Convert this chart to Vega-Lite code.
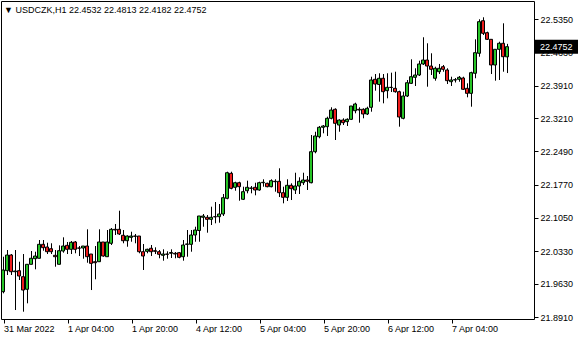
{
  "$schema": "https://vega.github.io/schema/vega-lite/v6.json",
  "width": 533,
  "height": 318,
  "padding": {"left": 1, "top": 1, "right": 0, "bottom": 0},
  "background": "white",
  "config": {
    "view": {"stroke": "black", "strokeWidth": 1},
    "font": "Liberation Sans",
    "axis": {"labelOverlap": false}
  },
  "title": {
    "text": "▼  USDCZK,H1  22.4532 22.4813 22.4182 22.4752",
    "anchor": "start",
    "frame": "group",
    "orient": "top",
    "offset": -14,
    "dx": 3,
    "fontSize": 9,
    "fontWeight": "normal",
    "color": "black",
    "baseline": "top"
  },
  "data": {
    "values": [
      {"t": "2022-03-31T12:00", "o": 21.9457, "h": 22.0213, "l": 21.9422, "c": 21.9926},
      {"t": "2022-03-31T13:00", "o": 21.9911, "h": 22.0358, "l": 21.9818, "c": 22.0250},
      {"t": "2022-03-31T14:00", "o": 22.0250, "h": 22.0271, "l": 21.9818, "c": 21.9889},
      {"t": "2022-03-31T15:00", "o": 21.9889, "h": 22.0358, "l": 21.9061, "c": 21.9904},
      {"t": "2022-03-31T16:00", "o": 21.9911, "h": 22.0105, "l": 21.9710, "c": 21.9796},
      {"t": "2022-03-31T17:00", "o": 21.9781, "h": 22.0271, "l": 21.9025, "c": 21.9493},
      {"t": "2022-03-31T18:00", "o": 21.9509, "h": 22.0055, "l": 21.9206, "c": 22.0049},
      {"t": "2022-03-31T19:00", "o": 22.0049, "h": 22.0336, "l": 22.0049, "c": 22.0179},
      {"t": "2022-03-31T20:00", "o": 22.0170, "h": 22.0321, "l": 21.9941, "c": 22.0228},
      {"t": "2022-03-31T21:00", "o": 22.0179, "h": 22.0574, "l": 22.0179, "c": 22.0481},
      {"t": "2022-03-31T22:00", "o": 22.0481, "h": 22.0574, "l": 22.0343, "c": 22.0408},
      {"t": "2022-03-31T23:00", "o": 22.0423, "h": 22.0516, "l": 22.0271, "c": 22.0321},
      {"t": "2022-04-01T00:00", "o": 22.0386, "h": 22.0503, "l": 22.0271, "c": 22.0321},
      {"t": "2022-04-01T01:00", "o": 22.0243, "h": 22.0358, "l": 21.9997, "c": 22.0213},
      {"t": "2022-04-01T02:00", "o": 22.0049, "h": 22.0459, "l": 22.0049, "c": 22.0343},
      {"t": "2022-04-01T03:00", "o": 22.0336, "h": 22.0632, "l": 22.0300, "c": 22.0444},
      {"t": "2022-04-01T04:00", "o": 22.0459, "h": 22.0531, "l": 22.0271, "c": 22.0373},
      {"t": "2022-04-01T05:00", "o": 22.0373, "h": 22.0552, "l": 22.0271, "c": 22.0524},
      {"t": "2022-04-01T06:00", "o": 22.0531, "h": 22.0552, "l": 22.0287, "c": 22.0373},
      {"t": "2022-04-01T07:00", "o": 22.0401, "h": 22.0444, "l": 22.0228, "c": 22.0398},
      {"t": "2022-04-01T08:00", "o": 22.0401, "h": 22.0444, "l": 22.0170, "c": 22.0444},
      {"t": "2022-04-01T09:00", "o": 22.0444, "h": 22.0805, "l": 22.0083, "c": 22.0213},
      {"t": "2022-04-01T10:00", "o": 22.0271, "h": 22.0271, "l": 21.9493, "c": 22.0070},
      {"t": "2022-04-01T11:00", "o": 22.0105, "h": 22.0444, "l": 21.9725, "c": 22.0083},
      {"t": "2022-04-01T12:00", "o": 22.0105, "h": 22.0805, "l": 22.0105, "c": 22.0531},
      {"t": "2022-04-01T13:00", "o": 22.0531, "h": 22.0531, "l": 22.0213, "c": 22.0228},
      {"t": "2022-04-01T14:00", "o": 22.0213, "h": 22.0790, "l": 22.0213, "c": 22.0531},
      {"t": "2022-04-01T15:00", "o": 22.0503, "h": 22.0833, "l": 22.0466, "c": 22.0805},
      {"t": "2022-04-01T16:00", "o": 22.0805, "h": 22.0920, "l": 22.0682, "c": 22.0790},
      {"t": "2022-04-01T17:00", "o": 22.0805, "h": 22.1207, "l": 22.0682, "c": 22.0704},
      {"t": "2022-04-01T18:00", "o": 22.0676, "h": 22.0790, "l": 22.0503, "c": 22.0559},
      {"t": "2022-04-01T19:00", "o": 22.0559, "h": 22.0676, "l": 22.0429, "c": 22.0660},
      {"t": "2022-04-01T20:00", "o": 22.0632, "h": 22.0753, "l": 22.0537, "c": 22.0660},
      {"t": "2022-04-01T21:00", "o": 22.0660, "h": 22.0704, "l": 22.0503, "c": 22.0654},
      {"t": "2022-04-01T22:00", "o": 22.0660, "h": 22.0660, "l": 22.0287, "c": 22.0321},
      {"t": "2022-04-01T23:00", "o": 22.0321, "h": 22.0488, "l": 21.9926, "c": 22.0228},
      {"t": "2022-04-04T00:00", "o": 22.0330, "h": 22.0386, "l": 22.0287, "c": 22.0373},
      {"t": "2022-04-04T01:00", "o": 22.0395, "h": 22.0466, "l": 22.0228, "c": 22.0321},
      {"t": "2022-04-04T02:00", "o": 22.0343, "h": 22.0416, "l": 22.0271, "c": 22.0330},
      {"t": "2022-04-04T03:00", "o": 22.0321, "h": 22.0358, "l": 22.0179, "c": 22.0265},
      {"t": "2022-04-04T04:00", "o": 22.0243, "h": 22.0373, "l": 22.0127, "c": 22.0271},
      {"t": "2022-04-04T05:00", "o": 22.0271, "h": 22.0330, "l": 22.0170, "c": 22.0265},
      {"t": "2022-04-04T06:00", "o": 22.0287, "h": 22.0373, "l": 22.0185, "c": 22.0304},
      {"t": "2022-04-04T07:00", "o": 22.0287, "h": 22.0315, "l": 22.0179, "c": 22.0271},
      {"t": "2022-04-04T08:00", "o": 22.0300, "h": 22.0315, "l": 22.0179, "c": 22.0200},
      {"t": "2022-04-04T09:00", "o": 22.0213, "h": 22.0574, "l": 22.0127, "c": 22.0466},
      {"t": "2022-04-04T10:00", "o": 22.0481, "h": 22.0790, "l": 22.0213, "c": 22.0488},
      {"t": "2022-04-04T11:00", "o": 22.0481, "h": 22.0790, "l": 22.0321, "c": 22.0682},
      {"t": "2022-04-04T12:00", "o": 22.0682, "h": 22.0861, "l": 22.0537, "c": 22.0790},
      {"t": "2022-04-04T13:00", "o": 22.0779, "h": 22.1093, "l": 22.0537, "c": 22.1093},
      {"t": "2022-04-04T14:00", "o": 22.1065, "h": 22.1136, "l": 22.0861, "c": 22.1093},
      {"t": "2022-04-04T15:00", "o": 22.1065, "h": 22.1114, "l": 22.0732, "c": 22.1021},
      {"t": "2022-04-04T16:00", "o": 22.1021, "h": 22.1294, "l": 22.0898, "c": 22.1065},
      {"t": "2022-04-04T17:00", "o": 22.1078, "h": 22.1395, "l": 22.0935, "c": 22.1075},
      {"t": "2022-04-04T18:00", "o": 22.1078, "h": 22.1352, "l": 22.0948, "c": 22.1136},
      {"t": "2022-04-04T19:00", "o": 22.1136, "h": 22.1568, "l": 22.1093, "c": 22.1488},
      {"t": "2022-04-04T20:00", "o": 22.1475, "h": 22.2050, "l": 22.1454, "c": 22.2028},
      {"t": "2022-04-04T21:00", "o": 22.2015, "h": 22.2050, "l": 22.1670, "c": 22.1691},
      {"t": "2022-04-04T22:00", "o": 22.1713, "h": 22.1834, "l": 22.1639, "c": 22.1812},
      {"t": "2022-04-04T23:00", "o": 22.1812, "h": 22.1834, "l": 22.1423, "c": 22.1726},
      {"t": "2022-04-05T00:00", "o": 22.1454, "h": 22.1726, "l": 22.1438, "c": 22.1618},
      {"t": "2022-04-05T01:00", "o": 22.1639, "h": 22.1856, "l": 22.1583, "c": 22.1713},
      {"t": "2022-04-05T02:00", "o": 22.1691, "h": 22.1741, "l": 22.1583, "c": 22.1698},
      {"t": "2022-04-05T03:00", "o": 22.1713, "h": 22.1812, "l": 22.1540, "c": 22.1655},
      {"t": "2022-04-05T04:00", "o": 22.1655, "h": 22.1834, "l": 22.1639, "c": 22.1812},
      {"t": "2022-04-05T05:00", "o": 22.1812, "h": 22.1886, "l": 22.1726, "c": 22.1821},
      {"t": "2022-04-05T06:00", "o": 22.1799, "h": 22.1812, "l": 22.1713, "c": 22.1726},
      {"t": "2022-04-05T07:00", "o": 22.1726, "h": 22.1886, "l": 22.1713, "c": 22.1856},
      {"t": "2022-04-05T08:00", "o": 22.1834, "h": 22.1886, "l": 22.1618, "c": 22.1843},
      {"t": "2022-04-05T09:00", "o": 22.1843, "h": 22.2124, "l": 22.1503, "c": 22.1596},
      {"t": "2022-04-05T10:00", "o": 22.1596, "h": 22.1726, "l": 22.1367, "c": 22.1497},
      {"t": "2022-04-05T11:00", "o": 22.1497, "h": 22.1886, "l": 22.1417, "c": 22.1756},
      {"t": "2022-04-05T12:00", "o": 22.1756, "h": 22.1799, "l": 22.1438, "c": 22.1683},
      {"t": "2022-04-05T13:00", "o": 22.1655, "h": 22.2028, "l": 22.1568, "c": 22.1741},
      {"t": "2022-04-05T14:00", "o": 22.1741, "h": 22.1929, "l": 22.1568, "c": 22.1843},
      {"t": "2022-04-05T15:00", "o": 22.1812, "h": 22.2028, "l": 22.1763, "c": 22.1871},
      {"t": "2022-04-05T16:00", "o": 22.1871, "h": 22.1957, "l": 22.1655, "c": 22.1843},
      {"t": "2022-04-05T17:00", "o": 22.1812, "h": 22.2843, "l": 22.1799, "c": 22.2482},
      {"t": "2022-04-05T18:00", "o": 22.2482, "h": 22.2914, "l": 22.2448, "c": 22.2822},
      {"t": "2022-04-05T19:00", "o": 22.2806, "h": 22.3038, "l": 22.2772, "c": 22.3010},
      {"t": "2022-04-05T20:00", "o": 22.3010, "h": 22.3059, "l": 22.2880, "c": 22.3038},
      {"t": "2022-04-05T21:00", "o": 22.3023, "h": 22.3239, "l": 22.2822, "c": 22.3204},
      {"t": "2022-04-05T22:00", "o": 22.3204, "h": 22.3442, "l": 22.3182, "c": 22.3383},
      {"t": "2022-04-05T23:00", "o": 22.3399, "h": 22.3420, "l": 22.2735, "c": 22.3096},
      {"t": "2022-04-06T00:00", "o": 22.3059, "h": 22.3182, "l": 22.2914, "c": 22.3167},
      {"t": "2022-04-06T01:00", "o": 22.3167, "h": 22.3204, "l": 22.3059, "c": 22.3109},
      {"t": "2022-04-06T02:00", "o": 22.3131, "h": 22.3204, "l": 22.3038, "c": 22.3182},
      {"t": "2022-04-06T03:00", "o": 22.3182, "h": 22.3470, "l": 22.3167, "c": 22.3470},
      {"t": "2022-04-06T04:00", "o": 22.3368, "h": 22.3541, "l": 22.3312, "c": 22.3513},
      {"t": "2022-04-06T05:00", "o": 22.3399, "h": 22.3442, "l": 22.3109, "c": 22.3383},
      {"t": "2022-04-06T06:00", "o": 22.3399, "h": 22.3420, "l": 22.3204, "c": 22.3297},
      {"t": "2022-04-06T07:00", "o": 22.3297, "h": 22.3455, "l": 22.3275, "c": 22.3420},
      {"t": "2022-04-06T08:00", "o": 22.3442, "h": 22.4103, "l": 22.3347, "c": 22.4032},
      {"t": "2022-04-06T09:00", "o": 22.4047, "h": 22.4161, "l": 22.3801, "c": 22.3945},
      {"t": "2022-04-06T10:00", "o": 22.3935, "h": 22.4177, "l": 22.3563, "c": 22.4069},
      {"t": "2022-04-06T11:00", "o": 22.4069, "h": 22.4161, "l": 22.3528, "c": 22.3779},
      {"t": "2022-04-06T12:00", "o": 22.3801, "h": 22.4177, "l": 22.3636, "c": 22.3874},
      {"t": "2022-04-06T13:00", "o": 22.3874, "h": 22.4190, "l": 22.3772, "c": 22.3870},
      {"t": "2022-04-06T14:00", "o": 22.3852, "h": 22.4211, "l": 22.3757, "c": 22.3779},
      {"t": "2022-04-06T15:00", "o": 22.3779, "h": 22.3801, "l": 22.3023, "c": 22.3232},
      {"t": "2022-04-06T16:00", "o": 22.3204, "h": 22.3779, "l": 22.3182, "c": 22.3686},
      {"t": "2022-04-06T17:00", "o": 22.3686, "h": 22.4032, "l": 22.3664, "c": 22.3973},
      {"t": "2022-04-06T18:00", "o": 22.3960, "h": 22.4479, "l": 22.3945, "c": 22.4103},
      {"t": "2022-04-06T19:00", "o": 22.4090, "h": 22.4285, "l": 22.3902, "c": 22.4140},
      {"t": "2022-04-06T20:00", "o": 22.4140, "h": 22.4449, "l": 22.4118, "c": 22.4378},
      {"t": "2022-04-06T21:00", "o": 22.4378, "h": 22.4955, "l": 22.4356, "c": 22.4464},
      {"t": "2022-04-06T22:00", "o": 22.4464, "h": 22.4825, "l": 22.3887, "c": 22.4334},
      {"t": "2022-04-06T23:00", "o": 22.4334, "h": 22.4609, "l": 22.4140, "c": 22.4263},
      {"t": "2022-04-07T00:00", "o": 22.4069, "h": 22.4319, "l": 22.4017, "c": 22.4285},
      {"t": "2022-04-07T01:00", "o": 22.4211, "h": 22.4378, "l": 22.4161, "c": 22.4285},
      {"t": "2022-04-07T02:00", "o": 22.4319, "h": 22.4356, "l": 22.4211, "c": 22.4263},
      {"t": "2022-04-07T03:00", "o": 22.4248, "h": 22.4285, "l": 22.3945, "c": 22.4017},
      {"t": "2022-04-07T04:00", "o": 22.3995, "h": 22.4103, "l": 22.3902, "c": 22.4032},
      {"t": "2022-04-07T05:00", "o": 22.4032, "h": 22.4075, "l": 22.3978, "c": 22.4038},
      {"t": "2022-04-07T06:00", "o": 22.4047, "h": 22.4118, "l": 22.3995, "c": 22.4090},
      {"t": "2022-04-07T07:00", "o": 22.4075, "h": 22.4103, "l": 22.3816, "c": 22.3831},
      {"t": "2022-04-07T08:00", "o": 22.3852, "h": 22.3960, "l": 22.3658, "c": 22.3744},
      {"t": "2022-04-07T09:00", "o": 22.3744, "h": 22.4211, "l": 22.3455, "c": 22.4190},
      {"t": "2022-04-07T10:00", "o": 22.4177, "h": 22.4911, "l": 22.4069, "c": 22.4622},
      {"t": "2022-04-07T11:00", "o": 22.4609, "h": 22.5344, "l": 22.4535, "c": 22.5292},
      {"t": "2022-04-07T12:00", "o": 22.5313, "h": 22.5387, "l": 22.5004, "c": 22.5041},
      {"t": "2022-04-07T13:00", "o": 22.5054, "h": 22.5076, "l": 22.4896, "c": 22.4911},
      {"t": "2022-04-07T14:00", "o": 22.4911, "h": 22.4911, "l": 22.4161, "c": 22.4356},
      {"t": "2022-04-07T15:00", "o": 22.4356, "h": 22.4695, "l": 22.4017, "c": 22.4695},
      {"t": "2022-04-07T16:00", "o": 22.4695, "h": 22.4859, "l": 22.4032, "c": 22.4825},
      {"t": "2022-04-07T17:00", "o": 22.4825, "h": 22.5257, "l": 22.4211, "c": 22.4535},
      {"t": "2022-04-07T18:00", "o": 22.4532, "h": 22.4813, "l": 22.4182, "c": 22.4752}
    ]
  },
  "layer": [
    {
      "mark": {"type": "rule", "color": "black", "strokeWidth": 1, "xOffset": 0.5},
      "encoding": {
        "x": {
          "field": "t",
          "type": "ordinal",
          "sort": null,
          "scale": {"paddingInner": 0, "paddingOuter": 0, "range": [0, 508]},
          "axis": {
            "orient": "bottom",
            "values": ["2022-03-31T12:00", "2022-04-01T04:00", "2022-04-01T20:00", "2022-04-04T12:00", "2022-04-05T04:00", "2022-04-05T20:00", "2022-04-06T12:00", "2022-04-07T04:00"],
            "labelExpr": "datum.value == '2022-03-31T12:00' ? '31 Mar 2022' : timeFormat(toDate(datum.value), '%-d %b %H:%M')",
            "labelAlign": "left",
            "labelBaseline": "top",
            "labelPadding": 1,
            "labelAngle": 0,
            "labelFontSize": 9,
            "labelColor": "black",
            "labelOverlap": false,
            "labelBound": false,
            "tickSize": 4,
            "tickColor": "black",
            "tickOffset": 0.5,
            "domain": false,
            "grid": false,
            "title": null
          }
        },
        "y": {
          "field": "l",
          "type": "quantitative",
          "scale": {"domain": [21.8867, 22.5739], "zero": false, "nice": false},
          "axis": {
            "orient": "right",
            "values": [22.535, 22.463, 22.391, 22.321, 22.249, 22.177, 22.105, 22.033, 21.963, 21.891],
            "format": ".4f",
            "tickSize": 4,
            "tickColor": "black",
            "labelPadding": 2,
            "labelFontSize": 9,
            "labelColor": "black",
            "labelBaseline": "middle",
            "labelOverlap": false,
            "labelBound": false,
            "labelFlush": false,
            "domain": false,
            "grid": false,
            "title": null
          }
        },
        "y2": {"field": "h"}
      }
    },
    {
      "mark": {"type": "bar", "width": 3, "stroke": "black", "strokeWidth": 1},
      "encoding": {
        "x": {"field": "t", "type": "ordinal", "sort": null},
        "y": {
          "field": "o",
          "type": "quantitative",
          "axis": {
            "orient": "right",
            "values": [22.535, 22.463, 22.391, 22.321, 22.249, 22.177, 22.105, 22.033, 21.963, 21.891],
            "format": ".4f",
            "tickSize": 4,
            "tickColor": "black",
            "labelPadding": 2,
            "labelFontSize": 9,
            "labelColor": "black",
            "labelBaseline": "middle",
            "labelOverlap": false,
            "labelBound": false,
            "labelFlush": false,
            "domain": false,
            "grid": false,
            "title": null
          }
        },
        "y2": {"field": "c"},
        "fill": {"condition": {"test": "datum.c >= datum.o", "value": "#27c427"}, "value": "#ee1c1c"}
      }
    },
    {
      "data": {"values": [{"p": 22.4752, "label": "22.4752"}]},
      "mark": {"type": "rect", "color": "black", "yOffset": -7, "y2Offset": 7, "x2Offset": 44},
      "encoding": {
        "x": {"value": "width"},
        "x2": {"value": "width"},
        "y": {
          "field": "p",
          "type": "quantitative",
          "axis": {
            "orient": "right",
            "values": [22.535, 22.463, 22.391, 22.321, 22.249, 22.177, 22.105, 22.033, 21.963, 21.891],
            "format": ".4f",
            "tickSize": 4,
            "tickColor": "black",
            "labelPadding": 2,
            "labelFontSize": 9,
            "labelColor": "black",
            "labelBaseline": "middle",
            "labelOverlap": false,
            "labelBound": false,
            "labelFlush": false,
            "domain": false,
            "grid": false,
            "title": null
          }
        },
        "y2": {"field": "p"}
      }
    },
    {
      "data": {"values": [{"p": 22.4752, "label": "22.4752"}]},
      "mark": {"type": "text", "align": "left", "baseline": "middle", "dx": 6, "color": "white", "fontSize": 9},
      "encoding": {
        "x": {"value": "width"},
        "y": {
          "field": "p",
          "type": "quantitative",
          "axis": {
            "orient": "right",
            "values": [22.535, 22.463, 22.391, 22.321, 22.249, 22.177, 22.105, 22.033, 21.963, 21.891],
            "format": ".4f",
            "tickSize": 4,
            "tickColor": "black",
            "labelPadding": 2,
            "labelFontSize": 9,
            "labelColor": "black",
            "labelBaseline": "middle",
            "labelOverlap": false,
            "labelBound": false,
            "labelFlush": false,
            "domain": false,
            "grid": false,
            "title": null
          }
        },
        "text": {"field": "label"}
      }
    }
  ]
}
